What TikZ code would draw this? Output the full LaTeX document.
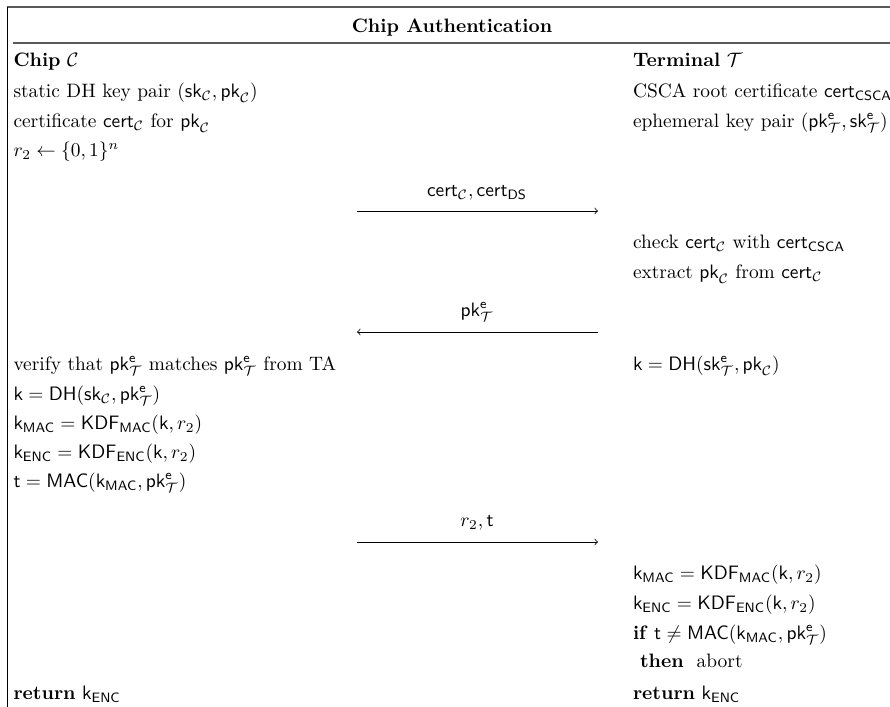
\documentclass[tikz,border=0pt]{standalone}
\usepackage{amsmath,amssymb}
\newcommand{\xsf}[1]{\mathsf{#1}}
\newcommand{\xpkC}{\xsf{pk}_{\mathcal{C}}}
\newcommand{\xskC}{\xsf{sk}_{\mathcal{C}}}
\newcommand{\xpkT}{\xsf{pk}^{\xsf{e}}_{\mathcal{T}}}
\newcommand{\xskT}{\xsf{sk}^{\xsf{e}}_{\mathcal{T}}}
\newcommand{\xcertC}{\xsf{cert}_{\mathcal{C}}}
\begin{document}
\begin{tikzpicture}[x=0.515pt,y=-0.515pt,
  txt/.style={anchor=base west, inner sep=0pt, outer sep=0pt},
  lbl/.style={anchor=base, inner sep=0pt, outer sep=0pt},
  msg/.style={->, line width=0.4pt},
  hrule/.style={draw=black!65, line width=0.7pt},
  vrule/.style={draw=black, line width=0.5pt}]
\useasboundingbox (0,0) rectangle (890,707);
% frame
\coordinate (tl) at (7,7);
\coordinate (tr) at (890,7);
\coordinate (ml) at (13,43);
\coordinate (mr) at (890,43);
\coordinate (bl) at (7,707);
\draw[hrule] (tl) -- (tr);
\draw[hrule] (ml) -- (mr);
\draw[vrule] (tl) -- (bl);
\node[lbl] (title) at (452,33) {\textbf{Chip Authentication}};
% chip column
\node[txt] (c0) at (13.5,67) {\textbf{Chip} $\mathcal{C}$};
\node[txt] (c1) at (13.5,98) {static DH key pair $(\xskC,\xpkC)$};
\node[txt] (c2) at (13.5,128) {certificate $\xcertC$ for $\xpkC$};
\node[txt] (c3) at (13.5,157) {$r_2\leftarrow\{0,1\}^n$};
\node[txt] (c4) at (13.5,371) {verify that $\xpkT$ matches $\xpkT$ from TA};
\node[txt] (c5) at (13.5,401) {$\xsf{k}=\xsf{DH}(\xskC,\xpkT)$};
\node[txt] (c6) at (13.5,430) {$\xsf{k}_{\xsf{MAC}}=\xsf{KDF}_{\xsf{MAC}}(\xsf{k},r_2)$};
\node[txt] (c7) at (13.5,459) {$\xsf{k}_{\xsf{ENC}}=\xsf{KDF}_{\xsf{ENC}}(\xsf{k},r_2)$};
\node[txt] (c8) at (13.5,488) {$\xsf{t}=\xsf{MAC}(\xsf{k}_{\xsf{MAC}},\xpkT)$};
\node[txt] (c9) at (13.5,700) {\textbf{return} $\xsf{k}_{\xsf{ENC}}$};
% terminal column
\node[txt] (t0) at (633,67) {\textbf{Terminal} $\mathcal{T}$};
\node[txt] (t1) at (633,98) {CSCA root certificate $\xsf{cert}_{\xsf{CSCA}}$};
\node[txt] (t2) at (633,128) {ephemeral key pair $(\xpkT,\xskT)$};
\node[txt] (t3) at (633,249) {check $\xcertC$ with $\xsf{cert}_{\xsf{CSCA}}$};
\node[txt] (t4) at (633,279) {extract $\xpkC$ from $\xcertC$};
\node[txt] (t5) at (633,371) {$\xsf{k}=\xsf{DH}(\xskT,\xpkC)$};
\node[txt] (t6) at (633,580) {$\xsf{k}_{\xsf{MAC}}=\xsf{KDF}_{\xsf{MAC}}(\xsf{k},r_2)$};
\node[txt] (t7) at (633,610) {$\xsf{k}_{\xsf{ENC}}=\xsf{KDF}_{\xsf{ENC}}(\xsf{k},r_2)$};
\node[txt] (t8) at (633,640) {\textbf{if} $\xsf{t}\neq\xsf{MAC}(\xsf{k}_{\xsf{MAC}},\xpkT)$};
\node[txt] (t9) at (640,668) {\textbf{then}\ \ abort};
\node[txt] (t10) at (633,700) {\textbf{return} $\xsf{k}_{\xsf{ENC}}$};
% messages
\coordinate (m1a) at (357,211);
\coordinate (m1b) at (598,211);
\coordinate (m2a) at (598,332);
\coordinate (m2b) at (357,332);
\coordinate (m3a) at (357,542);
\coordinate (m3b) at (598,542);
\draw[msg] (m1a) -- (m1b);
\draw[msg] (m2a) -- (m2b);
\draw[msg] (m3a) -- (m3b);
\node[lbl] (l1) at (477,197) {$\xcertC,\xsf{cert}_{\xsf{DS}}$};
\node[lbl] (l2) at (477,317) {$\xpkT$};
\node[lbl] (l3) at (477,527) {$r_2,\xsf{t}$};
\end{tikzpicture}
\end{document}
